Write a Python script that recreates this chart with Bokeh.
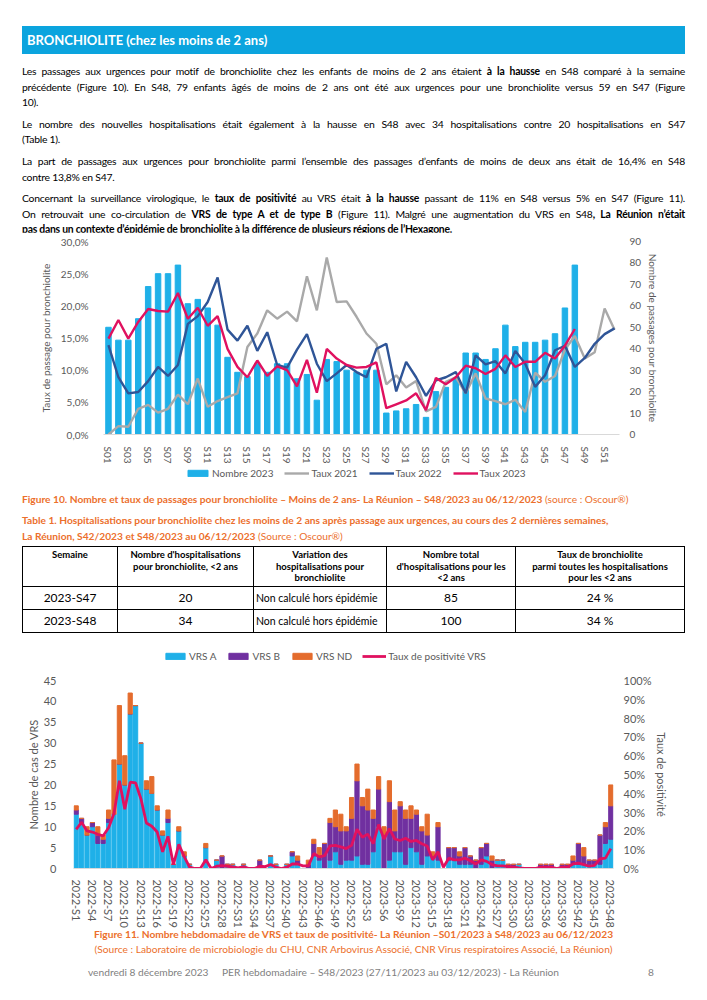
from bokeh.plotting import figure
from bokeh.models import Range1d, LinearAxis, FixedTicker, Legend, LegendItem, Div
from bokeh.layouts import column, row
from bokeh.embed import file_html
from bokeh.resources import INLINE

FONT = "Lato"
AXC = "#595959"

# ---------------- Figure 10 data ----------------
weeks = ["S01", "S02", "S03", "S04", "S05", "S06", "S07", "S08", "S09", "S10",
         "S11", "S12", "S13", "S14", "S15", "S16", "S17", "S18", "S19", "S20",
         "S21", "S22", "S23", "S24", "S25", "S26", "S27", "S28", "S29", "S30",
         "S31", "S32", "S33", "S34", "S35", "S36", "S37", "S38", "S39", "S40",
         "S41", "S42", "S43", "S44", "S45", "S46", "S47", "S48", "S49", "S50",
         "S51", "S52"]
nombre_2023 = [50, 44, 44, 54, 69, 75, 75, 79, 61, 63, 59, 51, 36, 29, 27, 33,
               29, 33, 33, 26, 28, 16, 35, 34, 30, 29, 30, 30, 10, 11, 12, 14,
               8, 20, 22, 26, 38, 38, 35, 40, 51, 41, 43, 43, 44, 47, 59, 79]
taux_2021 = [0.0, 1.3, 1.2, 4.0, 4.6, 3.4, 4.0, 6.2, 4.7, 8.7, 4.3, 5.2, 5.8,
             6.4, 13.6, 15.7, 19.3, 18.0, 19.1, 17.6, 24.6, 19.3, 27.5, 20.6,
             20.7, 18.3, 15.7, 14.1, 7.8, 9.2, 7.3, 8.3, 3.6, 4.3, 8.2, 8.9,
             6.4, 9.5, 5.6, 5.2, 4.7, 5.4, 3.5, 9.6, 8.2, 9.1, 13.2, 15.3,
             11.8, 12.8, 19.6, 16.3]
taux_2022 = [13.9, 8.9, 6.4, 6.6, 8.3, 10.5, 9.1, 10.8, 17.2, 18.4, 20.6, 24.4,
             16.3, 14.6, 16.9, 13.0, 15.9, 10.8, 10.4, 13.2, 15.6, 11.0, 8.3,
             9.5, 10.8, 9.7, 8.9, 13.3, 14.1, 6.7, 11.3, 8.9, 6.0, 8.4, 8.9,
             9.7, 6.4, 12.3, 10.9, 11.4, 9.5, 13.0, 11.0, 7.4, 9.2, 13.1, 13.8,
             10.5, 11.9, 14.1, 15.6, 16.5]
taux_2023 = [14.9, 17.8, 14.9, 17.5, 19.5, 19.2, 19.1, 22.0, 18.0, 19.7, 16.9,
             18.4, 13.3, 10.5, 8.9, 11.5, 9.1, 10.6, 10.0, 7.5, 11.6, 6.5, 13.3,
             11.8, 10.8, 10.4, 10.5, 11.2, 4.1, 4.7, 5.3, 6.4, 3.8, 8.8, 7.8,
             8.9, 10.7, 10.3, 9.4, 10.2, 12.3, 10.5, 11.3, 11.3, 12.7, 11.8,
             13.8, 16.4]
pct_ticks = [0, 5, 10, 15, 20, 25, 30]
pct_labels = ["0,0%", "5,0%", "10,0%", "15,0%", "20,0%", "25,0%", "30,0%"]
count_ticks = [0, 10, 20, 30, 40, 50, 60, 70, 80, 90]

# ---------------- Figure 11 data ----------------
vrs_weeks = ["2022-S%d" % i for i in range(1, 53)] + ["2023-S%d" % i for i in range(1, 49)]
vrs_a = [13, 11, 8, 10, 6, 6, 11, 13, 25, 20, 37, 39, 30, 19, 18, 14, 8, 11, 1, 9,
         3, 1, 0, 0, 5, 0, 2, 0, 1, 1, 0, 1, 0, 0, 0, 0, 3, 1, 0, 1,
         3, 1, 0, 0, 3, 2, 0, 2, 4, 1, 2, 2, 3, 1, 1, 4, 10, 0, 2, 4,
         4, 1, 5, 4, 1, 3, 3, 2, 0, 2, 2, 1, 1, 1, 0, 1, 3, 0, 2, 2,
         0, 0, 1, 0, 0, 0, 0, 0, 0, 0, 0, 0, 1, 1, 1, 1, 1, 1, 6, 7]
vrs_b = [1, 1, 0, 1, 2, 1, 1, 0, 0, 0, 0, 0, 0, 0, 0, 0, 0, 1, 0, 0,
         0, 0, 0, 0, 0, 0, 0, 3, 0, 0, 0, 0, 0, 0, 2, 0, 0, 0, 0, 0,
         1, 1, 0, 1, 3, 1, 6, 9, 6, 8, 7, 10, 18, 14, 13, 8, 9, 8, 14, 5,
         11, 11, 7, 9, 8, 5, 0, 8, 0, 3, 3, 2, 4, 2, 2, 4, 3, 2, 0, 0,
         1, 1, 0, 0, 0, 0, 1, 1, 1, 0, 1, 1, 1, 5, 2, 1, 1, 7, 4, 8]
vrs_nd = [1, 0, 2, 0, 2, 1, 2, 13, 14, 7, 5, 0, 0, 2, 4, 1, 1, 2, 0, 1,
          1, 0, 0, 0, 1, 0, 0, 0, 0, 0, 0, 0, 0, 0, 0, 0, 0, 0, 0, 0,
          0, 1, 0, 1, 1, 2, 0, 1, 4, 4, 1, 5, 4, 2, 5, 2, 3, 2, 5, 5,
          1, 2, 3, 1, 1, 5, 1, 1, 0, 0, 0, 1, 0, 0, 0, 0, 0, 1, 0, 0,
          0, 0, 0, 0, 0, 0, 0, 0, 0, 0, 0, 0, 1, 0, 2, 0, 0, 0, 1, 5]
taux_positivite = [20.8, 24.6, 20.0, 19.4, 18.2, 17.4, 21.7, 29.3, 46.7, 31.5,
                   45.9, 45.5, 37.0, 24.2, 22.5, 19.4, 8.9, 17.1, 2.0, 12.8,
                   6.3, 0.7, 0.0, 0.0, 4.6, 0.0, 1.2, 1.5, 1.2, 0.9,
                   0.3, 1.0, 0.0, 0.0, 1.2, 1.0, 2.1, 0.7, 0.0, 0.7,
                   2.4, 2.4, 1.4, 1.4, 8.0, 6.2, 6.8, 12.0, 12.3, 11.5,
                   10.6, 12.3, 20.9, 16.6, 18.3, 13.2, 23.4, 15.7, 21.2, 15.7,
                   14.9, 16.1, 14.4, 14.9, 13.2, 12.0, 4.6, 8.9, 0.7, 5.5,
                   4.6, 4.6, 5.5, 4.1, 2.4, 4.6, 3.8, 2.1, 1.4, 1.4,
                   1.0, 0.7, 0.3, 0.0, 0.0, 0.0, 0.7, 0.7, 0.7, 0.0,
                   0.7, 0.7, 2.4, 2.9, 2.1, 1.2, 1.7, 5.1, 5.5, 10.6]
cas_ticks = [0, 5, 10, 15, 20, 25, 30, 35, 40, 45]
pos_ticks = [0, 10, 20, 30, 40, 50, 60, 70, 80, 90, 100]

# ---------------- colours ----------------
BLUE = "#1fb0e8"
GRAY = "#a9a9a9"
DARK = "#2f5597"
PINK = "#e0115f"
VA = "#1fb0e8"
VB = "#7030a0"
VND = "#e46c2d"
ORANGE = "#ec6f2c"


def style_axis(ax, size="10px", tsize="10px"):
    ax.major_label_text_font = FONT
    ax.major_label_text_color = AXC
    ax.major_label_text_font_size = size
    ax.axis_label_text_font = FONT
    ax.axis_label_text_color = AXC
    ax.axis_label_text_font_style = "normal"
    ax.axis_label_text_font_size = tsize
    ax.major_tick_line_color = None
    ax.minor_tick_line_color = None


def legend_fig(height):
    f = figure(width=707, height=height, x_range=Range1d(0, 1), y_range=Range1d(0, 1),
               output_backend="svg", toolbar_location=None, x_axis_type=None,
               y_axis_type=None, min_border=0)
    f.outline_line_color = None
    f.xgrid.visible = False
    f.ygrid.visible = False
    return f


def make_legend(items, spacing, gw, loc):
    return Legend(items=items, orientation="horizontal", location=loc,
                  glyph_width=gw, glyph_height=8, label_standoff=2, spacing=spacing,
                  padding=0, margin=0, border_line_color=None, background_fill_alpha=0,
                  label_text_font=FONT, label_text_font_size="10px",
                  label_text_color=AXC, label_height=10)


# legend swatches: a single point placed outside the legend strip's visible range
OFF = [-10]

# ---------------- Figure 10 ----------------
x1 = list(range(1, len(weeks) + 1))
p1 = figure(width=707, height=234, x_range=Range1d(0.5, 52.5), y_range=Range1d(0, 30),
            output_backend="svg", toolbar_location=None,
            min_border_left=103, min_border_right=88, min_border_top=9, min_border_bottom=32)
p1.outline_line_color = None
p1.xgrid.visible = False
p1.ygrid.visible = False
p1.extra_y_ranges = {"count": Range1d(0, 90)}

r_bar = p1.vbar(x=x1[:len(nombre_2023)], top=nombre_2023, width=0.55, color=BLUE,
                y_range_name="count")
r21 = p1.line(x1, taux_2021, line_width=2.4, color=GRAY)
r22 = p1.line(x1, taux_2022, line_width=2.4, color=DARK)
r23 = p1.line(x1[:len(taux_2023)], taux_2023, line_width=2.4, color=PINK)

xa1 = p1.xaxis[0]
xa1.ticker = FixedTicker(ticks=x1[::2])
xa1.major_label_overrides = {x: w for x, w in zip(x1, weeks)}
xa1.major_label_orientation = "vertical"
xa1.axis_line_color = "#d9d9d9"
xa1.major_label_standoff = 6
style_axis(xa1, "10px")
ya1 = p1.yaxis[0]
ya1.ticker = FixedTicker(ticks=pct_ticks)
ya1.major_label_overrides = dict(zip(pct_ticks, pct_labels))
ya1.axis_line_color = None
ya1.axis_label = "Taux de passage pour bronchiolite"
ya1.major_label_standoff = 9
ya1.axis_label_standoff = 6
style_axis(ya1, "10px", "10px")

ax_r = LinearAxis(y_range_name="count", ticker=FixedTicker(ticks=count_ticks),
                  axis_label="Nombre de passages pour bronchiolite")
ax_r.axis_line_color = None
ax_r.major_label_standoff = 4
ax_r.axis_label_standoff = 3
style_axis(ax_r, "10px", "10px")
p1.add_layout(ax_r, "right")

lf1 = legend_fig(16)
s_bar = lf1.vbar(x=OFF, top=OFF, width=0.5, color=BLUE)
s21 = lf1.line(x=OFF, y=OFF, line_width=2.4, color=GRAY)
s22 = lf1.line(x=OFF, y=OFF, line_width=2.4, color=DARK)
s23 = lf1.line(x=OFF, y=OFF, line_width=2.4, color=PINK)
lf1.add_layout(make_legend([LegendItem(label="Nombre 2023", renderers=[s_bar]),
                            LegendItem(label="Taux 2021", renderers=[s21]),
                            LegendItem(label="Taux 2022", renderers=[s22]),
                            LegendItem(label="Taux 2023", renderers=[s23])], 11, 25,
                           (185, 3)), "center")

# ---------------- Figure 11 ----------------
x2 = list(range(len(vrs_weeks)))
p2 = figure(width=707, height=265, x_range=Range1d(-0.5, len(vrs_weeks) - 0.5),
            y_range=Range1d(0, 45), output_backend="svg", toolbar_location=None,
            min_border_left=73, min_border_right=94, min_border_top=15, min_border_bottom=54)
p2.outline_line_color = None
p2.xgrid.visible = False
p2.ygrid.visible = False
p2.extra_y_ranges = {"pct": Range1d(0, 100)}

bot_b = list(vrs_a)
top_b = [a + b for a, b in zip(vrs_a, vrs_b)]
top_nd = [a + b + n for a, b, n in zip(vrs_a, vrs_b, vrs_nd)]
rA = p2.vbar(x=x2, bottom=0, top=vrs_a, width=0.78, color=VA)
rB = p2.vbar(x=x2, bottom=bot_b, top=top_b, width=0.78, color=VB)
rN = p2.vbar(x=x2, bottom=top_b, top=top_nd, width=0.78, color=VND)
rT = p2.line(x2, taux_positivite, line_width=2.8, color=PINK, y_range_name="pct")

xa2 = p2.xaxis[0]
xa2.ticker = FixedTicker(ticks=x2[::3])
xa2.major_label_overrides = {x: w for x, w in zip(x2, vrs_weeks)}
xa2.major_label_orientation = "vertical"
xa2.axis_line_color = "#d9d9d9"
xa2.major_label_standoff = 5
style_axis(xa2, "11px")
ya2 = p2.yaxis[0]
ya2.ticker = FixedTicker(ticks=cas_ticks)
ya2.axis_line_color = None
ya2.axis_label = "Nombre de cas de VRS"
ya2.major_label_standoff = 11
ya2.axis_label_standoff = 1
style_axis(ya2, "11px", "11px")

ax_r2 = LinearAxis(y_range_name="pct", ticker=FixedTicker(ticks=pos_ticks),
                   axis_label="Taux de positivité")
ax_r2.major_label_overrides = {t: "%d%%" % t for t in pos_ticks}
ax_r2.axis_line_color = None
ax_r2.major_label_standoff = 4
ax_r2.axis_label_standoff = 1
style_axis(ax_r2, "11px", "11px")
p2.add_layout(ax_r2, "right")

lf2 = legend_fig(16)
sA = lf2.vbar(x=OFF, top=OFF, width=0.5, color=VA)
sB = lf2.vbar(x=OFF, top=OFF, width=0.5, color=VB)
sN = lf2.vbar(x=OFF, top=OFF, width=0.5, color=VND)
sT = lf2.line(x=OFF, y=OFF, line_width=2.8, color=PINK)
lf2.add_layout(make_legend([LegendItem(label="VRS A", renderers=[sA]),
                            LegendItem(label="VRS B", renderers=[sB]),
                            LegendItem(label="VRS ND", renderers=[sN]),
                            LegendItem(label="Taux de positivité VRS", renderers=[sT])], 10, 24,
                           (163, 3)), "center")

# ---------------- text blocks ----------------
J = "text-align:justify;text-align-last:justify;"
L = "text-align:left;"


def para(lines):
    out = ""
    for i, ln in enumerate(lines):
        st = L if i == len(lines) - 1 else J
        out += '<div style="%s">%s</div>' % (st, ln)
    return '<div style="margin-bottom:6px">%s</div>' % out


p_lines = [
    ["Les passages aux urgences pour motif de bronchiolite chez les enfants de moins de 2 ans étaient <b>à la hausse</b> en S48 comparé à la semaine",
     "précédente (Figure 10). En S48, 79 enfants âgés de moins de 2 ans ont été aux urgences pour une bronchiolite versus 59 en S47 (Figure",
     "10)."],
    ["Le nombre des nouvelles hospitalisations était également à la hausse en S48 avec 34 hospitalisations contre 20 hospitalisations en S47",
     "(Table 1)."],
    ["La part de passages aux urgences pour bronchiolite parmi l’ensemble des passages d’enfants de moins de deux ans était de 16,4% en S48",
     "contre 13,8% en S47."],
    ["Concernant la surveillance virologique, le <b>taux de positivité</b> au VRS était <b>à la hausse</b> passant de 11% en S48 versus 5% en S47 (Figure 11).",
     "On retrouvait une co-circulation de <b>VRS de type A et de type B</b> (Figure 11). Malgré une augmentation du VRS en S48<b>, La Réunion n’était</b>",
     "<b>pas dans un contexte d’épidémie de bronchiolite à la différence de plusieurs régions de l’Hexagone.</b>"],
]
body = "".join(para(pl) for pl in p_lines)
top_html = (
    '<div style="width:707px;height:232px;font-family:Lato;color:#000;padding-top:26px;box-sizing:border-box;">'
    '<div style="margin:0 22px 0 22px;height:28px;background:#0ba4de;color:#fff;'
    'font-weight:bold;font-size:13px;line-height:28px;padding-left:5px;">'
    'BRONCHIOLITE (chez les moins de 2 ans)</div>'
    '<div style="margin:10px 22px 0 22px;width:663px;font-size:10.4px;line-height:15.6px;'
    'letter-spacing:-0.25px;">' + body + '</div></div>'
)
div_top = Div(text=top_html, width=707, height=232, margin=(0, 0, 0, 0))

th = ("border:1px solid #000;font-weight:bold;font-size:9.5px;line-height:11.5px;"
      "vertical-align:top;text-align:center;padding:2px 2px 0 2px;")
td = "border:1px solid #000;font-size:12px;text-align:center;padding:0;height:23px;"
td3 = "border:1px solid #000;font-size:10.5px;text-align:left;padding:0 2px;height:23px;"
table_html = (
    '<table style="border-collapse:collapse;width:663px;margin-left:22px;font-family:Lato;'
    'color:#000;border:1.5px solid #000;">'
    '<tr style="height:40px">'
    '<th style="%s;width:95px">Semaine</th>'
    '<th style="%s;width:136px">Nombre d\'hospitalisations<br>pour bronchiolite, &lt;2 ans</th>'
    '<th style="%s;width:133px">Variation des<br>hospitalisations pour<br>bronchiolite</th>'
    '<th style="%s;width:129px">Nombre total<br>d\'hospitalisations pour les<br>&lt;2 ans</th>'
    '<th style="%s">Taux de bronchiolite<br>parmi toutes les hospitalisations<br>pour les &lt;2 ans</th>'
    '</tr>' % (th, th, th, th, th)
)
rows = [("2023-S47", "20", "Non calculé hors épidémie", "85", "24 %"),
        ("2023-S48", "34", "Non calculé hors épidémie", "100", "34 %")]
for r in rows:
    table_html += ('<tr><td style="%s">%s</td><td style="%s">%s</td><td style="%s">%s</td>'
                   '<td style="%s">%s</td><td style="%s">%s</td></tr>'
                   % (td, r[0], td, r[1], td3, r[2], td, r[3], td, r[4]))
table_html += '</table>'

cap = "color:%s;font-family:Lato;font-size:10.2px;" % ORANGE
mid_html = (
    '<div style="width:707px;height:167px;padding-top:10px;box-sizing:border-box;">'
    '<div style="%smargin:0 0 0 22px;line-height:14px;"><b>Figure 10. Nombre et taux de passages pour bronchiolite – Moins de 2 ans- La Réunion – S48/2023 au 06/12/2023</b> (source : Oscour®)</div>' % cap +
    '<div style="%smargin:7px 0 0 22px;line-height:15.5px;"><b>Table 1. Hospitalisations pour bronchiolite chez les moins de 2 ans après passage aux urgences, au cours des 2 dernières semaines,<br>La Réunion, S42/2023 et S48/2023 au 06/12/2023</b> (Source : Oscour®)</div>' % cap +
    '<div style="margin-top:2px">' + table_html + '</div></div>'
)
div_mid = Div(text=mid_html, width=707, height=167, margin=(0, 0, 0, 0))

bot_html = (
    '<div style="width:707px;height:62px;font-family:Lato;">'
    '<div style="%stext-align:center;line-height:15px;margin-top:-3px;"><b>Figure 11. Nombre hebdomadaire de VRS et taux de positivité- La Réunion –S01/2023 à S48/2023 au 06/12/2023</b><br>(Source : Laboratoire de microbiologie du CHU, CNR Arbovirus Associé, CNR Virus respiratoires Associé, La Réunion)</div>' % cap +
    '<div style="position:relative;height:20px;margin-top:8px;color:#7f7f7f;font-size:10.2px;">'
    '<span style="position:absolute;left:88px;">vendredi 8 décembre 2023</span>'
    '<span style="position:absolute;left:222px;">PER hebdomadaire – S48/2023 (27/11/2023 au 03/12/2023) - La Réunion</span>'
    '<span style="position:absolute;left:648px;">8</span></div></div>'
)
div_bot = Div(text=bot_html, width=707, height=62, margin=(0, 0, 0, 0))

layout = column(div_top, row(p1), row(lf1), div_mid, row(lf2), row(p2), div_bot, spacing=0)
open("out.html", "w").write(file_html(layout, INLINE))
